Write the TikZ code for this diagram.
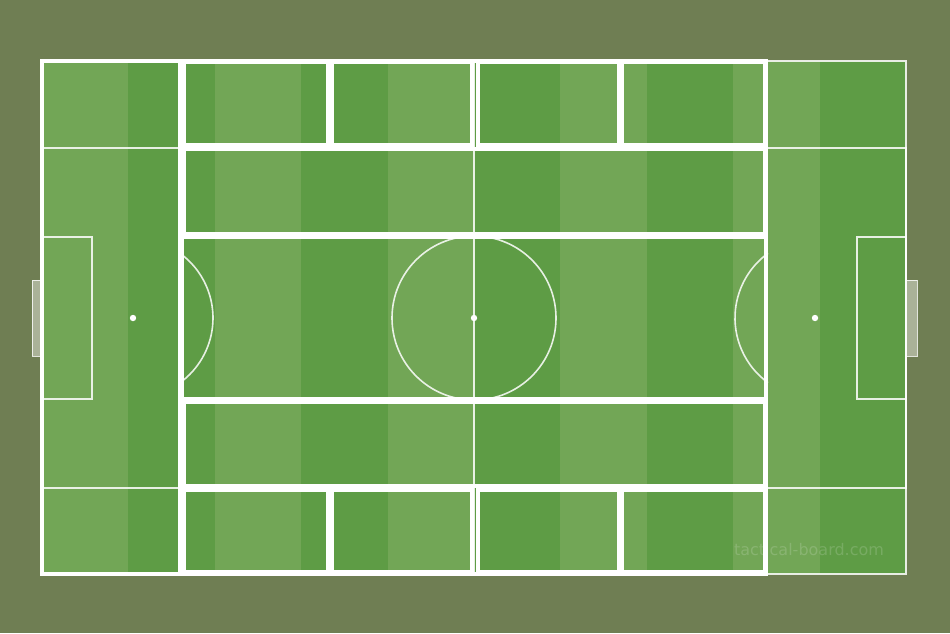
\documentclass[tikz,border=0pt]{standalone}
\usepackage{fontspec}
\newfontfamily\wmfont{DejaVu Sans}
\definecolor{bgolive}{RGB}{111,126,83}
\definecolor{lightgrass}{RGB}{114,166,86}
\definecolor{darkgrass}{RGB}{94,156,69}
\definecolor{goalgray}{RGB}{170,178,152}
\tikzset{
  thinline/.style={draw=white, draw opacity=0.85, line width=1.6pt},
  thickbox/.style={draw=white, line width=4pt},
  spot/.style={fill=white},
}
\begin{document}
\begin{tikzpicture}[x=1pt,y=-1pt]
\useasboundingbox (0,0) rectangle (950,633);
\fill[bgolive] (0,0) rectangle (950,633);
% stripes
\foreach \i in {0,...,9}{
  \pgfmathsetmacro{\xa}{42+86.4*\i}
  \pgfmathsetmacro{\xb}{42+86.4*(\i+1)}
  \pgfmathtruncatemacro{\stripeparity}{mod(\i,2)}
  \ifnum\stripeparity=0
    \fill[lightgrass] (\xa,61) rectangle (\xb,574);
  \else
    \fill[darkgrass] (\xa,61) rectangle (\xb,574);
  \fi
}
% goals
\draw[fill=goalgray, draw=white, draw opacity=0.8, line width=1pt] (32,280) rectangle (42,356);
\draw[fill=goalgray, draw=white, draw opacity=0.8, line width=1pt] (906,280) rectangle (917,356);
% thin pitch markings
\draw[thinline] (42,61) rectangle (906,574);
\draw[thinline] (474,61) -- (474,574);
\draw[thinline] (474,318) circle[radius=82];
\draw[thinline] (42,148) rectangle (180,488);
\draw[thinline] (767,148) rectangle (906,488);
\draw[thinline] (42,237) rectangle (92,399);
\draw[thinline] (857,237) rectangle (906,399);
\draw[thinline] (133,318) ++(-54:80) arc[start angle=-54, end angle=54, radius=80];
\draw[thinline] (815,318) ++(126:80) arc[start angle=126, end angle=234, radius=80];
\fill[spot] (474,318) circle[radius=3.2];
\fill[spot] (133,318) circle[radius=3.2];
\fill[spot] (815,318) circle[radius=3.2];
% thick zone boxes
\draw[thickbox] (42,61) rectangle (766,574);
\draw[thickbox] (42,61) rectangle (180,574);
\draw[thickbox] (183.5,62) rectangle (328,145);
\draw[thickbox] (331.5,62) rectangle (472,145);
\draw[thickbox] (477.5,62) rectangle (619,145);
\draw[thickbox] (622,62) rectangle (765,145);
\draw[thickbox] (183.5,148.5) rectangle (765,234);
\draw[thickbox] (182,236.5) rectangle (766,399);
\draw[thickbox] (183.5,401.5) rectangle (765,486);
\draw[thickbox] (183.5,489.5) rectangle (328,572);
\draw[thickbox] (331.5,489.5) rectangle (472,572);
\draw[thickbox] (477.5,489.5) rectangle (619,572);
\draw[thickbox] (622,489.5) rectangle (765,572);
% watermark
\node[text=white, text opacity=0.16, inner sep=0pt, font=\wmfont\fontsize{16}{18}\selectfont] (wm) at (809,550) {tactical-board.com};
\end{tikzpicture}
\end{document}
